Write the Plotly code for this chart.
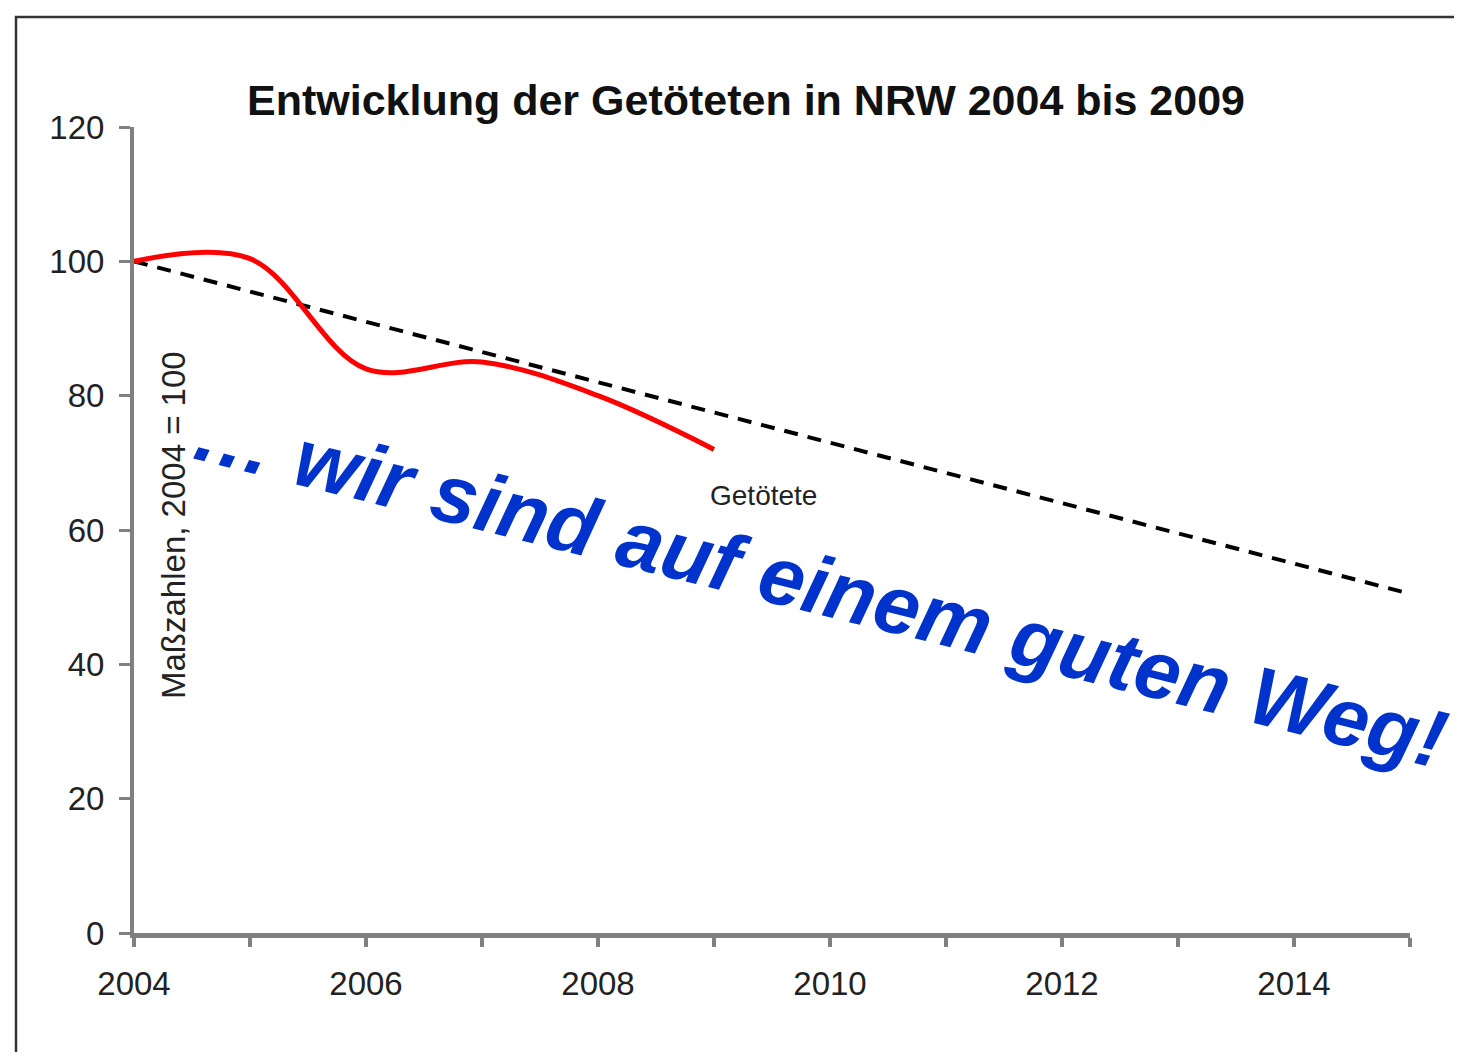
import plotly.graph_objects as go

# --- data ---
years_actual = [2004, 2005, 2006, 2007, 2008, 2009]
killed_index = [100, 100.4, 84, 85, 80, 72]

years_target = [2004, 2005, 2006, 2007, 2008, 2009, 2010, 2011, 2012, 2013, 2014, 2015]
target_index = [100, 95.5, 91, 86.5, 82, 77.5, 73, 68.5, 64, 59.5, 55, 50.5]

x_tick_vals = [2004, 2005, 2006, 2007, 2008, 2009, 2010, 2011, 2012, 2013, 2014, 2015]
x_tick_text = ["2004", "", "2006", "", "2008", "", "2010", "", "2012", "", "2014", ""]
y_tick_vals = [0, 20, 40, 60, 80, 100, 120]

title_text = "Entwicklung der Getöteten in NRW 2004 bis 2009"
y_title = "Maßzahlen, 2004 = 100"
series_label = "Getötete"
slogan = "\u2026 wir sind auf einem guten Weg!"

# page offset of the figure inside the html body (default body margin)
OFF = 8
W, H = 1462, 1052
# target plot area in screen pixels
X0, X1, Y0, Y1 = 134, 1410, 127, 933
ML = X0 - OFF
MT = Y0 - OFF
MR = W + OFF - X1
MB = H + OFF - Y1
PW, PH = X1 - X0, Y1 - Y0


def px(xs):
    return (xs - X0) / PW


def py(ys):
    return (Y1 - ys) / PH


fig = go.Figure()

fig.add_trace(go.Scatter(
    x=years_target, y=target_index, mode="lines",
    line=dict(color="black", width=4, dash="14px,10px"),
    showlegend=False, hoverinfo="skip"))

fig.add_trace(go.Scatter(
    x=years_actual, y=killed_index, mode="lines",
    line=dict(color="#FF0000", width=5, shape="spline", smoothing=1),
    showlegend=False, hoverinfo="skip"))

axis_font = dict(family="Liberation Sans, Arial, sans-serif", size=33, color="#222222")

fig.update_xaxes(
    range=[2004, 2015], tickvals=x_tick_vals, ticktext=x_tick_text,
    showline=True, linecolor="#808080", linewidth=5,
    ticks="outside", ticklen=9, tickwidth=4, tickcolor="#808080",
    ticklabelstandoff=8,
    showgrid=False, zeroline=False, tickfont=axis_font, fixedrange=True)
fig.update_yaxes(
    range=[0, 120], tickvals=y_tick_vals,
    showline=True, linecolor="#808080", linewidth=4,
    ticks="outside", ticklen=11, tickwidth=3, tickcolor="#808080",
    ticklabelstandoff=8,
    showgrid=False, zeroline=False, tickfont=axis_font, fixedrange=True)

shapes = [
    dict(type="rect", xref="paper", yref="paper", layer="below",
         x0=px(4), x1=px(W + 20), y0=py(H + 20), y1=py(3),
         fillcolor="white", line=dict(width=0)),
    dict(type="rect", xref="paper", yref="paper", layer="below",
         x0=px(16), x1=px(W + 20), y0=py(H + 20), y1=py(17),
         fillcolor="rgba(0,0,0,0)", line=dict(color="#333333", width=2.5)),
]

annotations = [
    dict(text=f"<b>{title_text}</b>", xref="paper", yref="paper",
         x=px(746), y=py(100), showarrow=False, xanchor="center", yanchor="middle",
         font=dict(family="Liberation Sans, Arial, sans-serif", size=43, color="#111111")),
    dict(text=y_title, xref="paper", yref="paper", x=px(173), y=py(525),
         showarrow=False, textangle=-90, xanchor="center", yanchor="middle",
         font=dict(family="Liberation Sans, Arial, sans-serif", size=33, color="#222222")),
    dict(text=series_label, xref="paper", yref="paper", x=px(763), y=py(495),
         showarrow=False, xanchor="center", yanchor="middle",
         font=dict(family="Liberation Sans, Arial, sans-serif", size=28, color="#222222")),
    dict(text=f"<b><i>{slogan}</i></b>", xref="paper", yref="paper", x=px(820), y=py(585),
         showarrow=False, textangle=14, xanchor="center", yanchor="middle",
         font=dict(family="Liberation Sans, Arial, sans-serif", size=82, color="#0033CC")),
]

fig.update_layout(
    width=W, height=H,
    margin=dict(l=ML, r=MR, t=MT, b=MB, autoexpand=False),
    paper_bgcolor="#EEF6DC", plot_bgcolor="rgba(0,0,0,0)",
    shapes=shapes, annotations=annotations, showlegend=False)

fig.write_html("out.html")
